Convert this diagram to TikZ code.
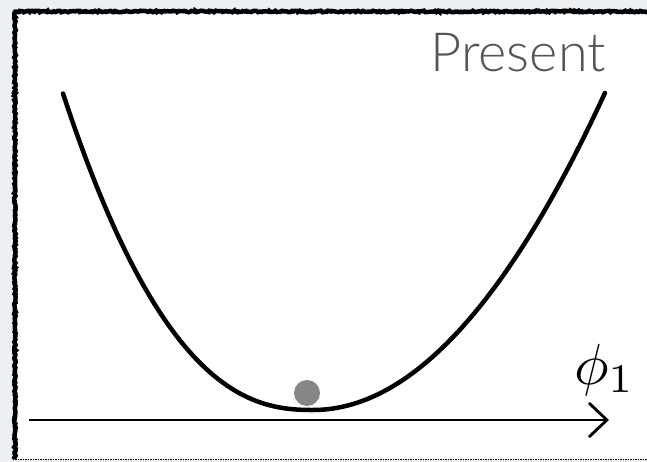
\documentclass[tikz,border=0pt]{standalone}
\usepackage{fontspec}
\usetikzlibrary{arrows.meta,decorations.pathmorphing}
\newfontfamily\presentfont{Lato Light}
\definecolor{frameback}{HTML}{EDF0F2}
\definecolor{labelgray}{HTML}{555555}
\definecolor{ballgray}{HTML}{868686}

\begin{document}
\begin{tikzpicture}[x=1pt,y=-1pt,
  rough/.style={decorate,decoration={random steps,segment length=1.5pt,amplitude=0.8pt}},
  wellcurve/.style={line width=4.5pt,line cap=round},
  axisline/.style={line width=2.8pt,-{Straight Barb[length=18pt,width=34pt,line width=2.8pt]}}]
\useasboundingbox (0,0) rectangle (647,462);
\fill[frameback] (0,0) rectangle (647,462);
\fill[white] (15,11) rectangle (647,459);
\draw[line width=4.5pt,rough] (13,11.5) -- (647,11.5);
\draw[line width=4.5pt,rough] (15,11) -- (15,459);
\draw[line width=1.5pt,densely dotted] (15,459.5) -- (647,459.5);
\draw[wellcurve] plot[domain=-2.5:-0.02,samples=60] ({313+100*\x},{410-35.1*pow(-\x,2.4)})
  -- plot[domain=0:2.92,samples=60] ({313+100*\x},{410-37.2*\x*\x});
\node[circle, fill=ballgray, minimum size=26pt, inner sep=0pt] (ball) at (307,393) {};
\coordinate (axisstart) at (29,420);
\coordinate (axisend) at (609,420);
\draw[axisline] (axisstart) -- (axisend);
\node[anchor=base east, inner sep=0pt, text=labelgray] (present) at (606,72) {\presentfont\fontsize{54}{58}\selectfont Present};
\node[anchor=base west, inner sep=0pt, scale=5.8] (phi) at (573,384) {$\phi_1$};
\end{tikzpicture}
\end{document}
